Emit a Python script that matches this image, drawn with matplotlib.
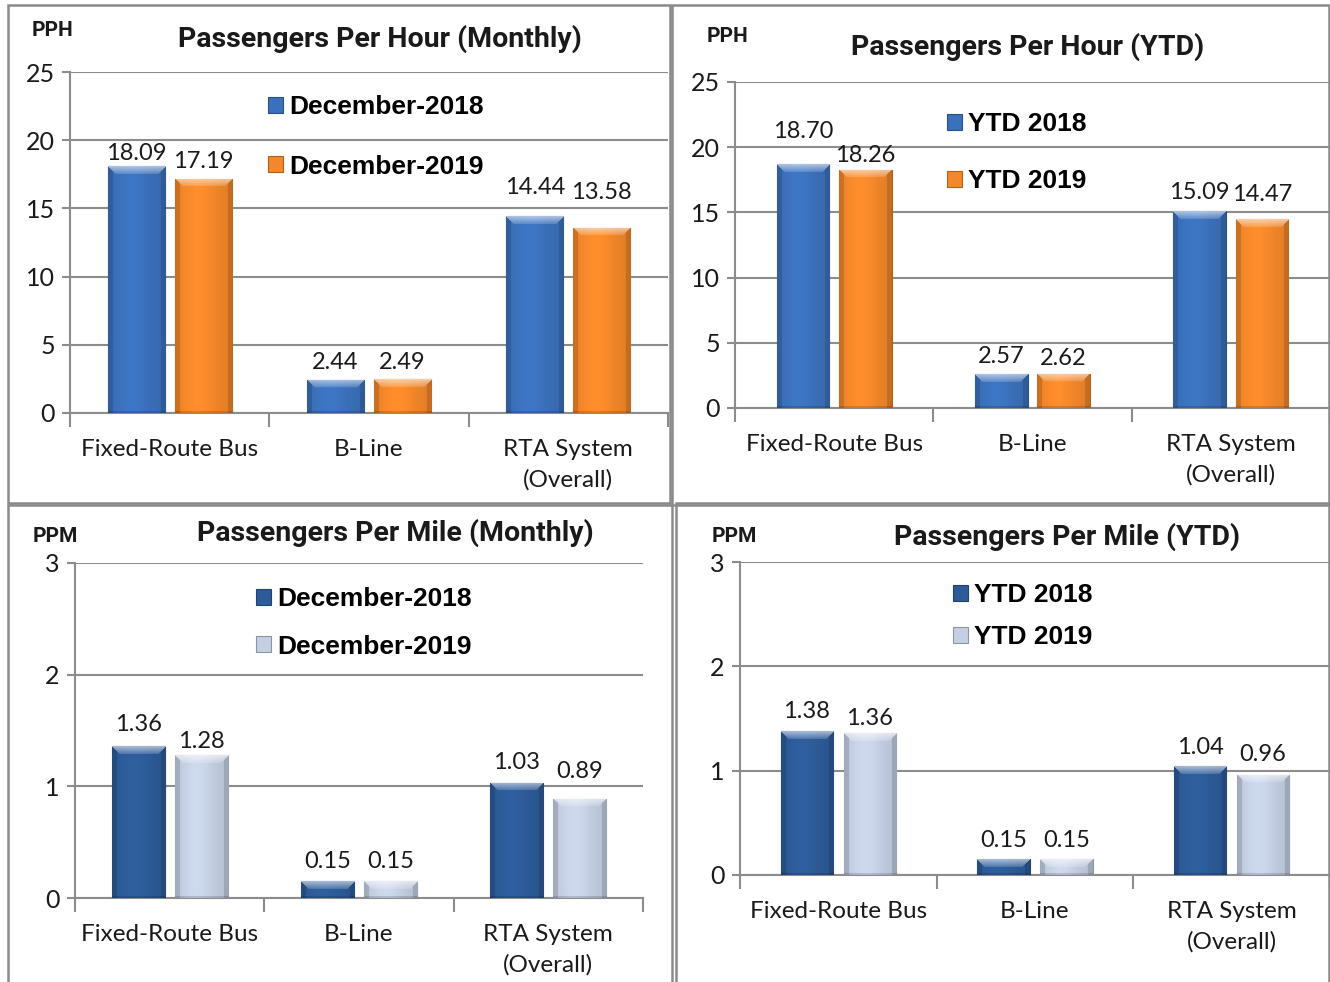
import numpy as np
import matplotlib.pyplot as plt
from matplotlib.colors import to_rgb

W, H = 1330, 982

categories = ["Fixed-Route Bus", "B-Line", "RTA System\n(Overall)"]

pph_month_2018 = [18.09, 2.44, 14.44]
pph_month_2019 = [17.19, 2.49, 13.58]
pph_ytd_2018 = [18.70, 2.57, 15.09]
pph_ytd_2019 = [18.26, 2.62, 14.47]
ppm_month_2018 = [1.36, 0.15, 1.03]
ppm_month_2019 = [1.28, 0.15, 0.89]
ppm_ytd_2018 = [1.38, 0.15, 1.04]
ppm_ytd_2019 = [1.36, 0.15, 0.96]

month_labels = ["December-2018", "December-2019"]
ytd_labels = ["YTD 2018", "YTD 2019"]

BLUE, ORANGE = "#3b71bb", "#f3872a"
NAVY, SILVER = "#2d5b98", "#c4cfe3"
GRID = "#8c8c8c"
TXT = "#1a1a1a"
LABEL_FONT = "Lato"
TITLE_FONT = "Roboto"

# panel layouts in pixels
panels = [
    dict(ax=(70, 72, 668, 413), border=(8, 5, 670, 503),
         title="Passengers Per Hour (Monthly)", title_xy=(380, 39),
         unit="PPH", unit_xy=(32, 30), ymax=25, step=5,
         s1=pph_month_2018, s2=pph_month_2019, names=month_labels,
         colors=(BLUE, ORANGE), width=0.286, off=0.168,
         leg_xy=(268, 95), leg_space=1.35,
         gaps=([13, 17, 29], [17, 17, 35])),
    dict(ax=(735, 82, 1330, 408), border=(672, 5, 1329, 505),
         title="Passengers Per Hour (YTD)", title_xy=(1028, 47),
         unit="PPH", unit_xy=(707, 36), ymax=25, step=5,
         s1=pph_ytd_2018, s2=pph_ytd_2019, names=ytd_labels,
         colors=(BLUE, ORANGE), width=0.266, off=0.157,
         leg_xy=(947, 112), leg_space=1.25,
         gaps=([33, 18, 19], [14, 15, 25])),
    dict(ax=(75, 563, 643, 898), border=(8, 505, 672, 985),
         title="Passengers Per Mile (Monthly)", title_xy=(395, 533),
         unit="PPM", unit_xy=(33, 537), ymax=3, step=1,
         s1=ppm_month_2018, s2=ppm_month_2019, names=month_labels,
         colors=(NAVY, SILVER), width=0.28, off=0.167,
         leg_xy=(256, 587), leg_space=0.9,
         gaps=([22, 20, 20], [14, 20, 27])),
    dict(ax=(740, 562, 1330, 875), border=(676, 503, 1329, 985),
         title="Passengers Per Mile (YTD)", title_xy=(1067, 537),
         unit="PPM", unit_xy=(712, 536), ymax=3, step=1,
         s1=ppm_ytd_2018, s2=ppm_ytd_2019, names=ytd_labels,
         colors=(NAVY, SILVER), width=0.266, off=0.16,
         leg_xy=(953, 583), leg_space=0.7,
         gaps=([20, 19, 19], [15, 19, 20])),
]


def bevel_image(color, ny, nx):
    # bar fill with a soft bevel: light top band, darker sides
    base = np.array(to_rgb(color))
    yy, xx = np.mgrid[0:ny, 0:nx]
    dl, dr, dt = xx, nx - 1 - xx, yy
    fx = 0.93 + 0.12 * np.exp(-((xx / max(nx - 1, 1) - 0.4) / 0.35) ** 2)
    img = base[None, None, :] * fx[..., None]
    bev = min(8, max(ny // 2, 1))
    side = (np.minimum(dl, dr) < 5) & (dt >= np.minimum(dl, dr))
    img[side] *= 0.86
    top = (dt < bev) & (dt <= dl) & (dt <= dr)
    amt = 0.45 * (1 - dt / bev) + 0.12
    img = np.where(top[..., None], img * (1 - amt[..., None]) + amt[..., None], img)
    img[-2:, :] *= 0.85
    return np.clip(img, 0, 1)


fig = plt.figure(figsize=(W / 100, H / 100), dpi=100)

for p in panels:
    l, t, r, b = p["ax"]
    ax = fig.add_axes([l / W, 1 - b / H, (r - l) / W, (b - t) / H])
    x = np.arange(len(categories))
    ax.set_xlim(-0.5, len(categories) - 0.5)
    ax.set_ylim(0, p["ymax"])
    ax.set_autoscale_on(False)
    ppu_y = (b - t) / p["ymax"]
    ppu_x = (r - l) / len(categories)

    bars = []
    for k, (vals, col) in enumerate(zip((p["s1"], p["s2"]), p["colors"])):
        xc = x + (-p["off"] if k == 0 else p["off"])
        bc = ax.bar(xc, vals, p["width"], color=col, zorder=3,
                    edgecolor=tuple(c * 0.72 for c in to_rgb(col)), linewidth=0.8)
        bars.append(bc)
        for rect, v, gap in zip(bc, vals, p["gaps"][k]):
            ny = max(int(round(v * ppu_y)), 2)
            nx = max(int(round(p["width"] * ppu_x)), 4)
            im = ax.imshow(bevel_image(col, ny, nx),
                           extent=(rect.get_x(), rect.get_x() + rect.get_width(), 0, v),
                           aspect="auto", origin="upper", zorder=3.5, interpolation="bilinear")
            im.set_clip_path(rect)
            ax.annotate(f"{v:.2f}", (rect.get_x() + rect.get_width() / 2, v),
                        xytext=(0, gap), textcoords="offset pixels", ha="center", va="center",
                        fontsize=17, color=TXT, family=LABEL_FONT, zorder=5)

    ax.set_yticks(np.arange(0, p["ymax"] + 0.1, p["step"]))
    ax.set_xticks(x, categories)
    ax.set_xticks(np.arange(-0.5, len(categories)), minor=True)
    ax.tick_params(axis="x", which="major", length=0, pad=19, labelsize=17.5, labelcolor=TXT)
    ax.tick_params(axis="x", which="minor", length=10, width=1.5, color=GRID)
    ax.tick_params(axis="y", length=6, width=1.5, color=GRID, pad=5, labelsize=18, labelcolor=TXT)
    for lab in ax.get_xticklabels() + ax.get_yticklabels():
        lab.set_family(LABEL_FONT)
        lab.set_linespacing(1.5)
    ax.yaxis.grid(True, color=GRID, linewidth=1.5)
    ax.set_axisbelow(True)
    for s in ("top", "right"):
        ax.spines[s].set_visible(False)
    for s in ("left", "bottom"):
        ax.spines[s].set_color(GRID)
        ax.spines[s].set_linewidth(1.5)

    ax.legend(bars, p["names"], loc="upper left",
              bbox_to_anchor=(p["leg_xy"][0] / W, 1 - p["leg_xy"][1] / H),
              bbox_transform=fig.transFigure, frameon=False,
              prop=dict(family="Liberation Sans", weight="bold", size=19),
              handlelength=0.55, handleheight=0.55, handletextpad=0.25,
              labelspacing=p["leg_space"], borderpad=0, borderaxespad=0)

    fig.text(p["title_xy"][0] / W, 1 - p["title_xy"][1] / H, p["title"],
             ha="center", va="center", fontsize=20.5, fontweight="bold", family=TITLE_FONT, color=TXT)
    fig.text(p["unit_xy"][0] / W, 1 - p["unit_xy"][1] / H, p["unit"],
             ha="left", va="center", fontsize=15, fontweight="bold", family=TITLE_FONT, color=TXT)

    bl, bt, br, bb = p["border"]
    fig.add_artist(plt.Rectangle((bl / W, 1 - bb / H), (br - bl) / W, (bb - bt) / H,
                                 transform=fig.transFigure, fill=False, edgecolor="#8a8a8a", linewidth=1.8))

fig.savefig("out.png", dpi=100)
